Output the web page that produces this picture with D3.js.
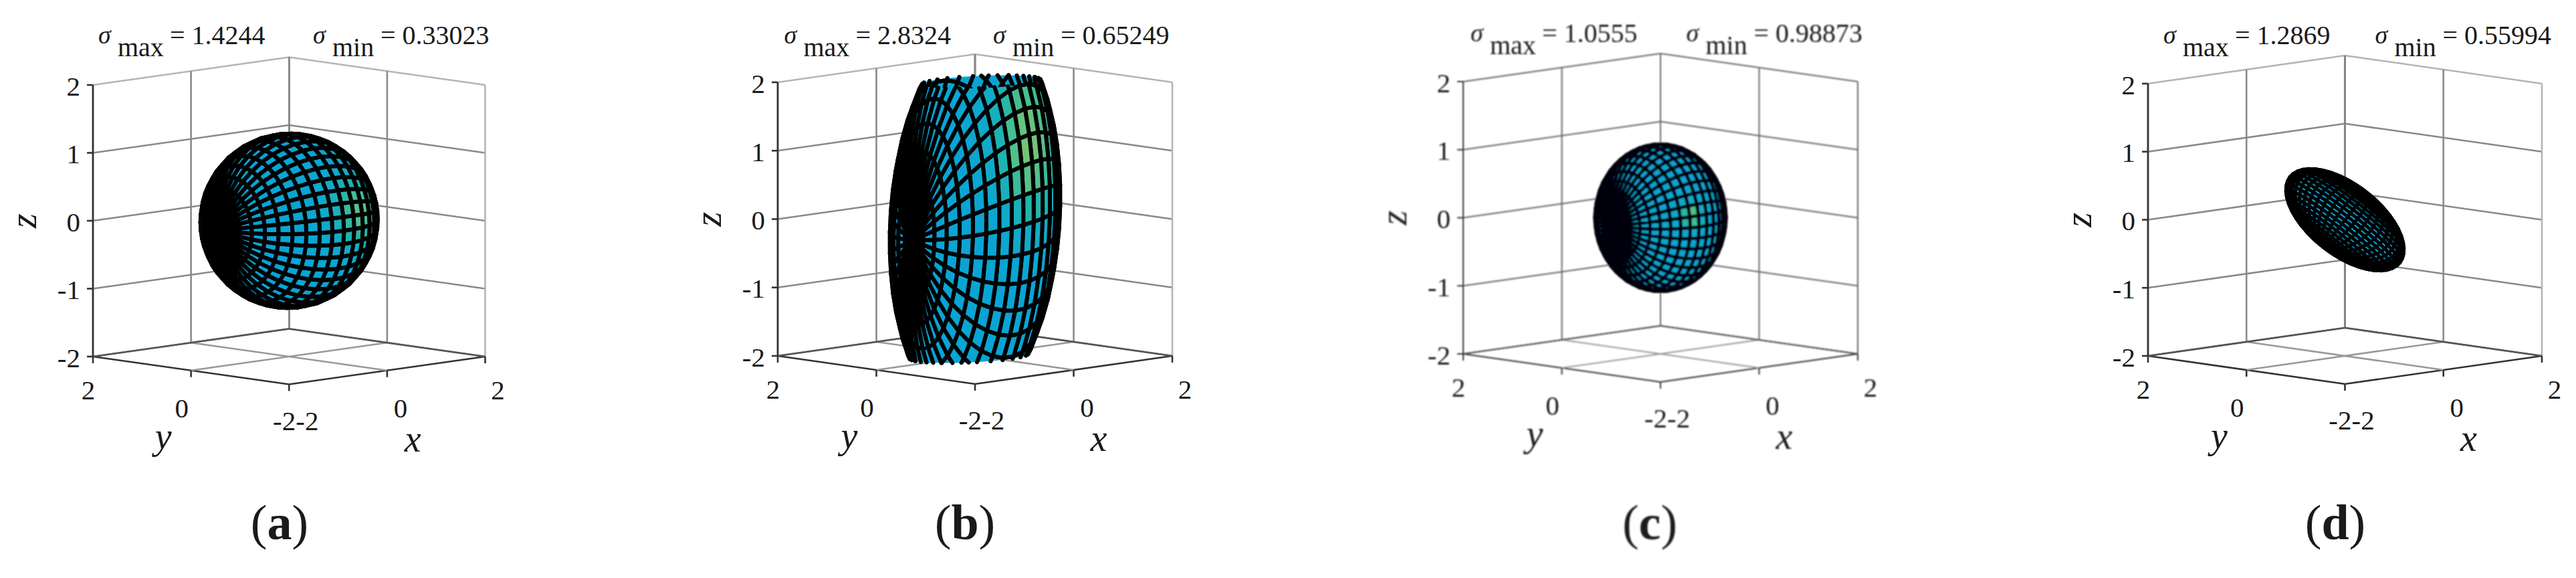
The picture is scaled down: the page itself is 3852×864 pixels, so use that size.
<!DOCTYPE html>
<html><head><meta charset="utf-8">
<script src="https://cdn.jsdelivr.net/npm/d3@7/dist/d3.min.js"></script>
<style>html,body{margin:0;background:#fff}svg{display:block}text{font-family:"Liberation Serif",serif;fill:#1a1a1a}</style>
</head><body><svg id="c" width="3852" height="864"><defs><filter id="soft" x="-5%" y="-5%" width="110%" height="110%"><feGaussianBlur stdDeviation="1"/></filter></defs></svg>
<script>
const panelNames=["a","b","c","d"];
const sigmaMax=["1.4244","2.8324","1.0555","1.2869"];
const sigmaMin=["0.33023","0.65249","0.98873","0.55994"];
const tickValues=[-2,-1,0,1,2];
const floorTicks=[-2,0,2];
const panelLeft=[139,1163,2188,3212];
const panelRight=[725.5,1753,2778,3801];
const zTop=[127,123,122,125];
const zBottom=[533,532,529,532];
const floorDepth=[41.5,42,42,42];
const maxTitleX=[147,1172.5,2199,3235];
const minTitleX=[468,1485,2521.5,3551.5];
const titleBase=[65,65,62,65];
const captionX=[418,1443,2467,3492];
const latSegments=[20,20,20,24];
const lineWidth=[6,6,5,4.6];
const lineColor=["#000","#000","#01020c","#000"];
const gridWidth=[2.6,2.6,2,2.6];
const blurred=[false,false,true,false];
// ellipsoid axes in data units: polar axis, then the two equatorial axes
const axisPolar=[[-1.27,0.15,-0.02],[-1.24,0.01,-0.18],[-1.04,-0.10,0],[-0.60,-0.177,-0.315]];
const axisU=[[0.15,1.27,0],[0.31,-0.88,0.02],[0.10,1.04,0],[0.56,-0.56,-0.63]];
const axisV=[[0,0,1.27],[0.04,-0.045,2.8],[0,0,1.07],[-0.125,-0.016,-0.084]];
// hot spot of the colour field on each surface
const hotDir=[[0.18,-0.95,0.2],[0.26,-0.76,1.06],[-0.34,-0.93,0.16],[-0.18,-0.24,0.24]];
const hotZWeight=[1,0.5,1,1];
const hotBase=[0,0,0.06,0];
const hotGain=[0.75,0.85,0.75,0.8];
const hotPower=[9,5,60,90];
const colorStops=[0,0.3,0.5,0.7,1];
const colorValues=["#09a4d4","#14adc4","#22b6a8","#4fc08d","#9cc760"];

const svg=d3.select("#c");
const color=d3.scaleLinear().domain(colorStops).range(colorValues);

panelNames.forEach((name,k)=>{
  const g=svg.append("g");
  if(blurred[k])g.attr("filter","url(#soft)");
  const cx=(panelLeft[k]+panelRight[k])/2;
  const sx=d3.scaleLinear().domain([0,4]).range([cx,panelRight[k]]);   // x-y
  const mid=(zTop[k]+zBottom[k])/2;
  const sz=d3.scaleLinear().domain([-2,2]).range([zBottom[k],zTop[k]]);
  const sd=d3.scaleLinear().domain([-4,4]).range([floorDepth[k],-floorDepth[k]]); // x+y
  const proj=(x,y,z)=>[sx(x-y),sz(z)+sd(x+y)];
  const gw=gridWidth[k];
  const seg=(a,b,w,col)=>{const p=proj(...a),q=proj(...b);
    g.append("line").attr("x1",p[0]).attr("y1",p[1]).attr("x2",q[0]).attr("y2",q[1])
     .attr("stroke",col).attr("stroke-width",w);};
  const grid=blurred[k]?"#666":"#8a8a8a", dark="#3a3a3a", light=blurred[k]?"#666":"#b5b5b5";
  // back walls
  tickValues.forEach(t=>{
    const col=t===2?light:grid;
    seg([-2,2,t],[2,2,t],gw,col);
    seg([2,-2,t],[2,2,t],gw,col);
  });
  floorTicks.forEach(t=>{
    seg([t,2,-2],[t,2,2],gw,t===2?dark:grid);
    seg([2,t,-2],[2,t,2],gw,t===-2?light:grid);
  });
  // floor
  [-2,0,2].forEach(t=>{
    seg([t,-2,-2],[t,2,-2],gw,t===-2?"#333":(t===2?"#555":"#999"));
    seg([-2,t,-2],[2,t,-2],gw,t===-2?"#333":(t===2?"#555":"#999"));
  });
  // axes with ticks
  seg([-2,2,-2],[-2,2,2],gw,"#333");
  tickValues.forEach(t=>{const p=proj(-2,2,t);
    g.append("line").attr("x1",p[0]-9).attr("x2",p[0]).attr("y1",p[1]).attr("y2",p[1]).attr("stroke","#333").attr("stroke-width",gw);
    g.append("text").attr("x",p[0]-19).attr("y",p[1]+2).attr("dy","0.33em").attr("text-anchor","end").attr("font-size",41).text(t);
  });
  [[-2,2],[-2,0],[-2,-2],[0,-2],[2,-2]].forEach(([x,y])=>{const p=proj(x,y,-2);
    g.append("line").attr("x1",p[0]).attr("x2",p[0]).attr("y1",p[1]).attr("y2",p[1]+10).attr("stroke","#333").attr("stroke-width",gw);
  });
  const lab=(x,y,dx,dy,s)=>{const p=proj(x,y,-2);
    g.append("text").attr("x",p[0]+dx).attr("y",p[1]+dy).attr("text-anchor","middle").attr("font-size",41).text(s);};
  lab(-2,2,-7,64,"2"); lab(-2,0,-14,70,"0"); lab(-2,-2,10,68,"-2-2"); lab(0,-2,20,70,"0"); lab(2,-2,19,64,"2");
  const italic=(x,y,s,rot)=>g.append("text").attr("transform",`translate(${x},${y})`+(rot?" rotate(-90)":""))
     .attr("text-anchor","middle").attr("font-size",56).attr("font-style","italic").text(s);
  italic(cx-188,zBottom[k]+138,"y"); italic(cx+185,zBottom[k]+142,"x"); italic(panelLeft[k]-85,mid,"z",true);

  // surface
  const nLat=latSegments[k], nLon=2*nLat, P=axisPolar[k],U=axisU[k],V=axisV[k];
  const w=hotZWeight[k], H=[hotDir[k][0],hotDir[k][1],hotDir[k][2]*w];
  const pt=(i,j)=>{const th=Math.PI*i/nLat, ph=2*Math.PI*j/nLon;
    const a=Math.cos(th),b=Math.sin(th)*Math.cos(ph),c=Math.sin(th)*Math.sin(ph);
    return d3.range(3).map(d=>a*P[d]+b*U[d]+c*V[d]);};
  const len=Math.hypot(...H);
  const heat=p=>{const s=[p[0],p[1],p[2]*w];const r=Math.hypot(...s)||1;
    const v=Math.max(0,(s[0]*H[0]+s[1]*H[1]+s[2]*H[2])/(r*len));
    return Math.min(1,hotBase[k]+hotGain[k]*Math.pow(v,hotPower[k]));};
  const lerp=(a,b,t)=>a.map((v,d)=>v+t*(b[d]-v));
  const clipPoly=poly=>{ // clip a cell to the z box
    let out=poly;
    [1,-1].forEach(s=>{
      const lim=2,res=[];
      out.forEach((a,i)=>{const b=out[(i+1)%out.length];
        const ia=s*a[2]<=lim, ib=s*b[2]<=lim;
        if(ia)res.push(a);
        if(ia!==ib)res.push(lerp(a,b,(s*lim-a[2])/(b[2]-a[2])));
      });
      out=res;
    });
    return out;};
  const clipSeg=(a,b)=>{ // clip a mesh edge to the z box
    let p=a,q=b;
    for(const s of [1,-1]){
      if(!p)break;
      const ip=s*p[2]<=2, iq=s*q[2]<=2;
      if(!ip&&!iq){p=null;break;}
      if(!ip)p=lerp(p,q,(s*2-p[2])/(q[2]-p[2]));
      else if(!iq)q=lerp(p,q,(s*2-p[2])/(q[2]-p[2]));
    }
    return p?[p,q]:null;};
  const quads=[];
  for(let i=0;i<nLat;i++)for(let j=0;j<nLon;j++){
    const raw=[pt(i,j),pt(i+1,j),pt(i+1,j+1),pt(i,j+1)];
    const q=clipPoly(raw);
    if(q.length<3)continue;
    const c=[0,1,2].map(d=>d3.mean(q,p=>p[d]));
    const edges=raw.map((a,e)=>clipSeg(a,raw[(e+1)%4])).filter(Boolean);
    quads.push({q,c,edges,depth:c[0]+c[1]-0.207*c[2]});
  }
  quads.sort((a,b)=>d3.descending(a.depth,b.depth));
  const line=d3.line();
  const cell=g.selectAll("g.q").data(quads).join("g").attr("class","q");
  cell.append("path")
    .attr("d",d=>line(d.q.map(p=>proj(...p)))+"Z")
    .attr("fill",d=>color(heat(d.c)));
  cell.append("path")
    .attr("d",d=>d.edges.map(e=>line(e.map(p=>proj(...p)))).join(""))
    .attr("fill","none")
    .attr("stroke",lineColor[k]).attr("stroke-width",lineWidth[k]).attr("stroke-linecap","round");

  // titles
  const title=(x,minmax,val,sx0,eq)=>{
    g.append("text").attr("x",x).attr("y",titleBase[k]).attr("font-size",38).attr("font-style","italic").text("σ");
    g.append("text").attr("x",x+sx0).attr("y",titleBase[k]+19).attr("font-size",40).text(minmax);
    g.append("text").attr("x",x+eq).attr("y",titleBase[k]+1).attr("font-size",40).text("= "+val);
  };
  title(maxTitleX[k],"max",sigmaMax[k],29,107);
  title(minTitleX[k],"min",sigmaMin[k],29,101);
  // caption
  const t=g.append("text").attr("x",captionX[k]).attr("y",806).attr("text-anchor","middle").attr("font-size",74);
  t.append("tspan").text("(");
  t.append("tspan").attr("font-weight","bold").text(name);
  t.append("tspan").text(")");
});
</script></body></html>
